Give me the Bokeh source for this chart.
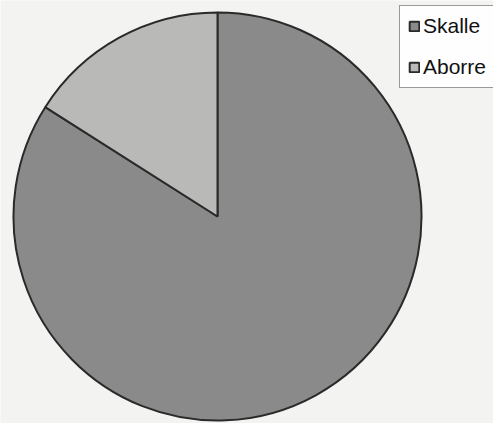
from math import pi
from bokeh.plotting import figure
from bokeh.models import Range1d, Legend, LegendItem
from bokeh.embed import file_html
from bokeh.resources import INLINE

categories = ["Skalle", "Aborre"]
values = [84, 16]
colors = ["#8a8a8a", "#b9b9b7"]

W, H = 493, 423
p = figure(width=W, height=H, output_backend="svg", toolbar_location=None,
           x_range=Range1d(0, W), y_range=Range1d(0, H), min_border=0,
           background_fill_color="#f3f3f1", border_fill_color="#f3f3f1")
p.axis.visible = False
p.grid.visible = False
p.outline_line_color = None

total = sum(values)
# Aborre starts at 12 o'clock and goes counterclockwise; Skalle fills the rest
ab_angle = values[1] / total * 2 * pi
starts = [pi / 2 + ab_angle, pi / 2]
ends = [pi / 2 + 2 * pi, pi / 2 + ab_angle]

cx, cy, rad = 217, 207, 204
renderers = []
for i, c in enumerate(categories):
    r = p.wedge(x=[cx], y=[cy], radius=rad, start_angle=[starts[i]], end_angle=[ends[i]],
                fill_color=colors[i], line_color="#2a2a2a", line_width=2)
    renderers.append(r)

legend = Legend(items=[LegendItem(label=categories[i], renderers=[renderers[i]]) for i in range(2)],
                location=(399, 335), orientation="vertical",
                glyph_width=12, glyph_height=12, label_height=22, spacing=17,
                label_standoff=3, padding=8, margin=0,
                label_text_font="Liberation Sans", label_text_font_size="21px",
                label_text_color="#111111",
                border_line_color="#333333", border_line_width=1,
                background_fill_color="#ffffff", background_fill_alpha=0.9)
p.add_layout(legend)

open("out.html", "w").write(file_html(p, INLINE))
